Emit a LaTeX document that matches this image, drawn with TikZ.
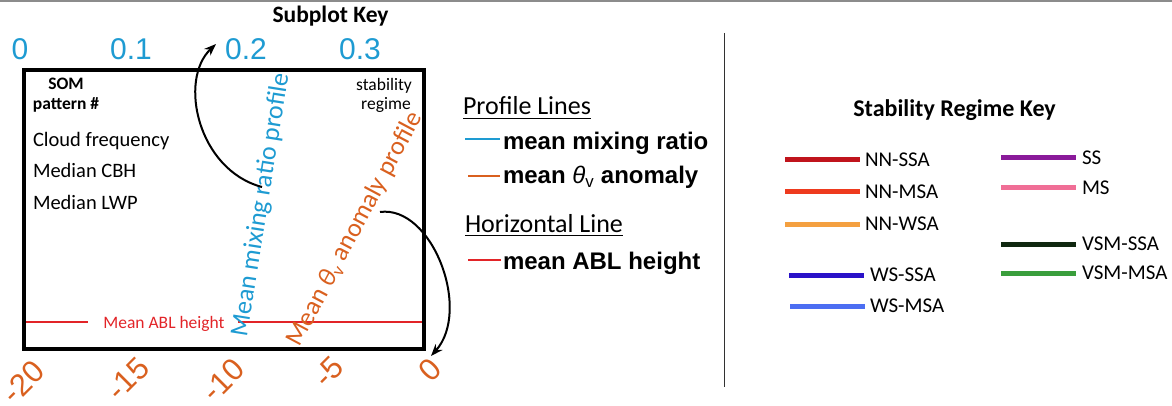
\documentclass[tikz,border=0pt]{standalone}
\usepackage{fontspec}
\setmainfont{Carlito}
\newfontfamily\arialf{Liberation Sans}
\usetikzlibrary{arrows.meta}
\definecolor{axblue}{RGB}{30,155,210}
\definecolor{axorange}{RGB}{217,96,31}
\definecolor{ablred}{RGB}{226,36,40}
\definecolor{topgray}{RGB}{140,140,140}
\definecolor{divgray}{RGB}{50,50,50}
\definecolor{cNNSSA}{RGB}{192,20,28}
\definecolor{cNNMSA}{RGB}{238,58,30}
\definecolor{cNNWSA}{RGB}{244,160,64}
\definecolor{cWSSSA}{RGB}{42,18,200}
\definecolor{cWSMSA}{RGB}{76,110,242}
\definecolor{cSS}{RGB}{138,26,154}
\definecolor{cMS}{RGB}{240,110,150}
\definecolor{cVSMSSA}{RGB}{16,40,16}
\definecolor{cVSMMSA}{RGB}{58,158,60}
\begin{document}
\begin{tikzpicture}[x=1pt,y=-1pt,
  txt/.style={inner sep=0pt, outer sep=0pt},
  topnum/.style={txt, anchor=base, text=axblue, font={\arialf\fontsize{30}{34}\selectfont}},
  botnum/.style={txt, anchor=center, rotate=45, text=axorange, font={\arialf\fontsize{31}{35}\selectfont}},
  inbox/.style={txt, font={\fontsize{20.5}{24}\selectfont}},
  small/.style={txt, font={\fontsize{17.5}{21}\selectfont}},
  prof/.style={txt, anchor=center, font={\fontsize{26}{30}\selectfont}},
  pointer/.style={line width=2pt, -{Stealth[length=12pt,width=9pt]}},
  legh/.style={txt, anchor=base west, font={\fontsize{26}{30}\selectfont}},
  legt/.style={txt, anchor=base west, font={\arialf\bfseries\fontsize{24}{28}\selectfont}},
  swatch/.style={line width=2pt},
  keyline/.style={line width=5pt},
  keytxt/.style={txt, anchor=west, font={\fontsize{21}{25}\selectfont}}
]
\useasboundingbox (0,0) rectangle (1172,406);
\fill[topgray] (0,0) rectangle (1172,2.5);

% titles
\node[txt, anchor=base, font={\bfseries\fontsize{23.5}{28}\selectfont}] (subkey) at (330.5,23) {Subplot Key};

% top axis
\node[topnum] (t0) at (20,60) {0};
\node[topnum] (t1) at (131,60) {0.1};
\node[topnum] (t2) at (246,60) {0.2};
\node[topnum] (t3) at (360,60) {0.3};

% ABL line
\node[small, anchor=base, text=ablred] (abl) at (164,328) {Mean ABL height};
\coordinate (ablL1) at (24,322);
\coordinate (ablL2) at (88,322);
\coordinate (ablR1) at (238,322);
\coordinate (ablR2) at (424,322);
\draw[ablred, line width=1.2pt] (ablL1) -- (ablL2);
\draw[ablred, line width=1.2pt] (ablR1) -- (ablR2);

% box
\node[draw, line width=4.5pt, minimum width=400pt, minimum height=279pt, inner sep=0pt, outer sep=0pt, anchor=north west] (box) at (24,70) {};

% box texts
\node[small, anchor=base, font={\bfseries\fontsize{17.5}{21}\selectfont}] (som) at (66,90) {SOM};
\node[small, anchor=base, font={\bfseries\fontsize{17.5}{21}\selectfont}] (pat) at (66,110) {pattern \#};
\node[small, anchor=base] (stab) at (384,91) {stability};
\node[small, anchor=base] (reg) at (386,110) {regime};
\node[inbox, anchor=base west] (cf) at (33,147) {Cloud frequency};
\node[inbox, anchor=base west] (cbh) at (33,178) {Median CBH};
\node[inbox, anchor=base west] (lwp) at (33,210) {Median LWP};

% rotated profile labels
\node[prof, rotate=81, text=axblue] (mmr) at (261,205) {Mean mixing ratio profile};
\node[prof, rotate=62, text=axorange] (tva) at (355,229) {Mean {\itshape θ}\textsubscript{v} anomaly profile};

% bottom axis
\node[botnum] (b20) at (23,382) {-20};
\node[botnum] (b15) at (128,379) {-15};
\node[botnum] (b10) at (223,380) {-10};
\node[botnum] (b5) at (329,372) {-5};
\node[botnum] (b0) at (430,370) {0};

% pointer arrows
\coordinate (a1s) at (262,187);
\coordinate (a1e) at (216,44);
\draw[pointer] (a1s) .. controls (198,170) and (178,80) .. (a1e);
\coordinate (a2s) at (380,212);
\coordinate (a2e) at (431,356);
\draw[pointer] (a2s) .. controls (432,205) and (472,310) .. (a2e);

% profile legend
\node[legh] (pl) at (463,115) {Profile Lines};
\draw[line width=1.5pt] ([yshift=-3.5pt]pl.base west) -- ([yshift=-3.5pt]pl.base east);
\draw[swatch, axblue] (465,139.5) -- (500,139.5);
\node[legt] (lmmr) at (503,150) {mean mixing ratio};
\draw[swatch, axorange] (468,176) -- (500,176);
\node[legt] (ltva) at (503,184) {mean {\normalfont\arialf\itshape θ}\textsubscript{\normalfont\arialf v} anomaly};
\node[legh] (hl) at (465,232) {Horizontal Line};
\draw[line width=1.5pt] ([yshift=-3.5pt]hl.base west) -- ([yshift=-3.5pt]hl.base east);
\draw[swatch, ablred] (468,260) -- (501,260);
\node[legt] (labl) at (503,269) {mean ABL height};

% divider
\draw[divgray, line width=1.5pt] (724.5,33) -- (724.5,387);

% stability regime key
\node[txt, anchor=base, font={\bfseries\fontsize{24}{28}\selectfont}] (srk) at (954.5,117) {Stability Regime Key};
\draw[keyline, cNNSSA] (785,160) -- (860,160);
\node[keytxt] (k1) at (865,160) {NN-SSA};
\draw[keyline, cNNMSA] (785,192) -- (860,192);
\node[keytxt] (k2) at (865,192) {NN-MSA};
\draw[keyline, cNNWSA] (785,224) -- (860,224);
\node[keytxt] (k3) at (865,224) {NN-WSA};
\draw[keyline, cWSSSA] (789,275) -- (864,275);
\node[keytxt] (k4) at (870,275) {WS-SSA};
\draw[keyline, cWSMSA] (790,306) -- (865,306);
\node[keytxt] (k5) at (870,306) {WS-MSA};
\draw[keyline, cSS] (1001,158) -- (1076,158);
\node[keytxt] (k6) at (1082,158) {SS};
\draw[keyline, cMS] (1001,188) -- (1076,188);
\node[keytxt] (k7) at (1082,188) {MS};
\draw[keyline, cVSMSSA] (1001,244) -- (1076,244);
\node[keytxt] (k8) at (1082,244) {VSM-SSA};
\draw[keyline, cVSMMSA] (1001,273) -- (1076,273);
\node[keytxt] (k9) at (1082,273) {VSM-MSA};
\end{tikzpicture}
\end{document}
